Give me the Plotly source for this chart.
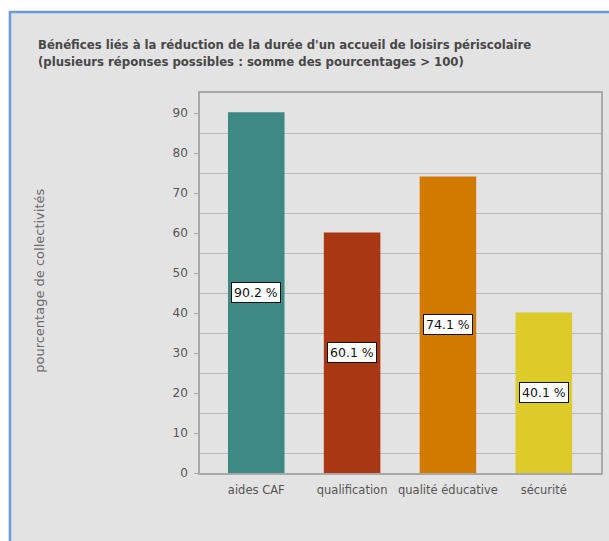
import plotly.graph_objects as go

categories = ["aides CAF", "qualification", "qualité éducative", "sécurité"]
values = [90.2, 60.1, 74.1, 40.1]
labels = ["90.2 %", "60.1 %", "74.1 %", "40.1 %"]
colors = ["#3e8983", "#aa3714", "#d27a00", "#dccb28"]
y_ticks = [0, 10, 20, 30, 40, 50, 60, 70, 80, 90]

W, H = 609, 541
# plot area in page pixels
PL, PR, PT, PB = 200, 603, 93, 473
L, R, T, B = PL, W - PR, PT, H - PB
pw, ph = W - L - R, H - T - B

def px(x):  # page pixel -> paper x
    return (x - L) / pw

def py(y):  # page pixel -> paper y
    return (H - B - y) / ph

fig = go.Figure()
fig.add_trace(go.Bar(
    x=categories, y=values, marker=dict(color=colors, line=dict(width=0)),
    width=0.59, hoverinfo="skip", showlegend=False,
))

for c, v, t in zip(categories, values, labels):
    fig.add_annotation(
        x=c, y=v / 2, text=t, showarrow=False, xref="x", yref="y",
        font=dict(family="DejaVu Sans, Liberation Sans", size=12.5, color="#111"),
        bgcolor="white", bordercolor="#111", borderwidth=1, borderpad=2,
    )

fig.add_annotation(
    x=px(35), y=py(35), xref="paper", yref="paper", xanchor="left", yanchor="top",
    align="left", showarrow=False,
    text="<b>Bénéfices liés à la réduction de la durée d'un accueil de loisirs périscolaire<br>(plusieurs réponses possibles : somme des pourcentages > 100)</b>",
    font=dict(family="DejaVu Sans Condensed, DejaVu Sans, sans-serif", size=13, color="#474747"),
)

fig.add_annotation(
    x=px(38), y=py(281), xref="paper", yref="paper", xanchor="center", yanchor="middle",
    textangle=-90, showarrow=False, text="pourcentage de collectivités",
    font=dict(family="DejaVu Sans, sans-serif", size=13, color="#6a6a6a"),
)

shapes = [
    dict(type="rect", xref="paper", yref="paper", x0=px(-5), x1=px(8), y0=py(H + 20), y1=py(-5),
         fillcolor="white", line=dict(width=0), layer="below"),
    dict(type="rect", xref="paper", yref="paper", x0=px(-5), x1=px(W + 20), y0=py(11), y1=py(-5),
         fillcolor="white", line=dict(width=0), layer="below"),
    dict(type="line", xref="paper", yref="paper", x0=px(9), x1=px(9), y0=py(H + 20), y1=py(11),
         line=dict(color="#6b9bd6", width=2.5)),
    dict(type="line", xref="paper", yref="paper", x0=px(8), x1=px(W + 20), y0=py(12), y1=py(12),
         line=dict(color="#6b9bd6", width=2.5)),
]

fig.update_layout(
    width=W, height=H,
    margin=dict(l=L, r=R, t=T, b=B),
    paper_bgcolor="#e3e3e3", plot_bgcolor="#e3e3e3",
    shapes=shapes,
    xaxis=dict(
        range=[-0.587, 3.597],
        showline=True, linecolor="#a8a8a8", linewidth=1.5, mirror=True,
        showgrid=False, ticks="", ticklabelstandoff=5,
        tickfont=dict(family="DejaVu Sans, sans-serif", size=11.5, color="#555"),
        fixedrange=True,
    ),
    yaxis=dict(
        range=[0, 95], tickvals=y_ticks, ticks="outside", ticklen=4, tickcolor="#a8a8a8",
        ticklabelstandoff=4,
        showline=True, linecolor="#a8a8a8", linewidth=1.5, mirror=True,
        showgrid=False, zeroline=False,
        minor=dict(tick0=5, dtick=10, showgrid=True, gridcolor="#b8b8b8", gridwidth=1, ticks=""),
        tickfont=dict(family="DejaVu Sans, sans-serif", size=12, color="#555"),
        fixedrange=True,
    ),
)

fig.write_html(
    "out.html",
    config={"displayModeBar": False},
    post_script="document.body.style.margin='0';document.body.style.overflow='hidden';",
)
